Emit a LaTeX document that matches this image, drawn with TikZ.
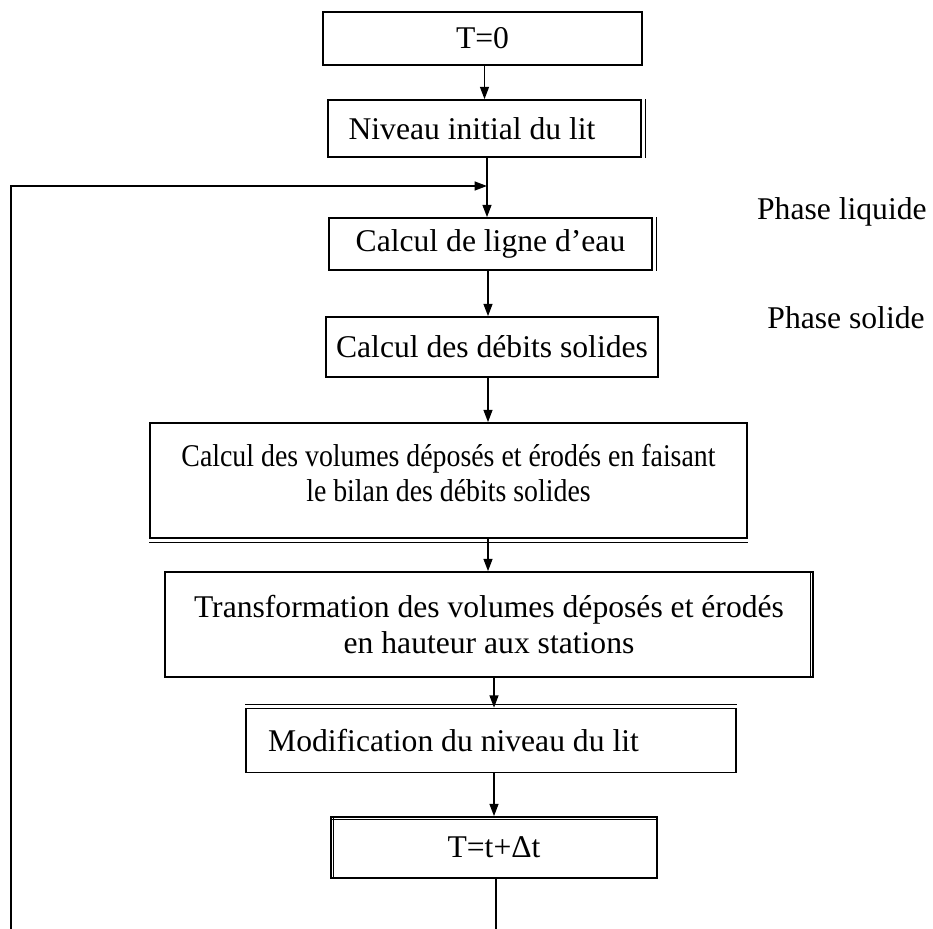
\documentclass[tikz,border=0pt]{standalone}
\usepackage{fontspec}
\setmainfont{Liberation Serif}
\usetikzlibrary{arrows.meta}

\begin{document}
\begin{tikzpicture}[
      x=0.02cm, y=-0.02cm,
      font=\fontsize{18}{20}\selectfont,
      etape/.style={draw, line width=0.9pt, inner sep=0pt, align=center},
      fleche/.style={line width=1pt, -{Triangle[length=7pt,width=5pt]}},
      trait/.style={line width=1pt},
      bord/.style={line width=0.6pt}
  ]

  \useasboundingbox (0,0) rectangle (933,929);

  % les etapes du calcul
  \node [etape, minimum width=6.38cm, minimum height=1.06cm] (t0) at (482.5,38.5) {T=0};
  \node [etape, minimum width=6.26cm, minimum height=1.14cm] (niv) at (484.5,128.5) {Niveau initial du lit\hspace*{0.5cm}};
  \node [etape, minimum width=6.46cm, minimum height=1.04cm] (ligne) at (490.5,244) {Calcul de ligne d’eau};
  \node [etape, minimum width=6.64cm, minimum height=1.2cm] (debits) at (492,347) {Calcul des débits solides};
  \node [etape, minimum width=11.94cm, minimum height=2.3cm] (volumes) at (448.5,480.5) {\scalebox{0.88}[1]{Calcul des volumes déposés et érodés en faisant}\\\scalebox{0.88}[1]{le bilan des débits solides}\\[-11pt]\mbox{}};
  \node [etape, minimum width=12.96cm, minimum height=2.1cm] (transf) at (489,624.5) {Transformation des volumes déposés et érodés\\en hauteur aux stations};
  \node [etape, minimum width=9.8cm, minimum height=1.28cm] (modif) at (491,740.5) {Modification du niveau du lit\hspace*{1.5cm}};
  \node [etape, minimum width=6.52cm, minimum height=1.22cm] (tdt) at (494,847.5) {T=t+Δt};

  % les phases
  \node [anchor=base east, inner sep=0pt] (liquide) at (927,220) {Phase liquide};
  \node [anchor=base east, inner sep=0pt] (solide) at (925,328) {Phase solide};

  % doubles bords
  \draw [bord] ([xshift=2pt]niv.north east) -- ([xshift=2pt]niv.south east);
  \draw [bord] ([xshift=2pt]ligne.north east) -- ([xshift=2pt]ligne.south east);
  \draw [bord] ([yshift=-2pt]volumes.south west) -- ([yshift=-2pt]volumes.south east);
  \draw [bord] ([xshift=-2pt]transf.north east) -- ([xshift=-2pt]transf.south east);
  \draw [bord] ([yshift=2pt]modif.north west) -- ([yshift=2pt]modif.north east);
  \draw [bord] ([xshift=2pt]tdt.north west) -- ([xshift=2pt]tdt.south west);
  \draw [bord] ([yshift=-2pt]tdt.north west) -- ([yshift=-2pt]tdt.north east);

  % fleches
  \coordinate (axeH) at (488,0);
  \coordinate (axeB) at (494,0);
  \coordinate (retour) at (487,186);
  \coordinate (basG) at (11,929);
  \coordinate (basD) at (496,929);

  \draw [fleche] (t0.south -| niv) -- (niv.north);
  \draw [trait] (niv.south -| retour) -- (retour);
  \draw [fleche] (retour) -- (ligne.north -| retour);
  \draw [fleche] (ligne.south -| axeH) -- (debits.north -| axeH);
  \draw [fleche] (debits.south -| axeH) -- (volumes.north -| axeH);
  \draw [fleche] (volumes.south -| axeH) -- (transf.north -| axeH);
  \draw [fleche] (transf.south -| axeB) -- (modif.north -| axeB);
  \draw [fleche] (modif.south -| axeB) -- (tdt.north -| axeB);
  \draw [trait] (tdt.south -| basD) -- (basD);
  \draw [fleche] (basG) |- (retour);

\end{tikzpicture}
\end{document}
